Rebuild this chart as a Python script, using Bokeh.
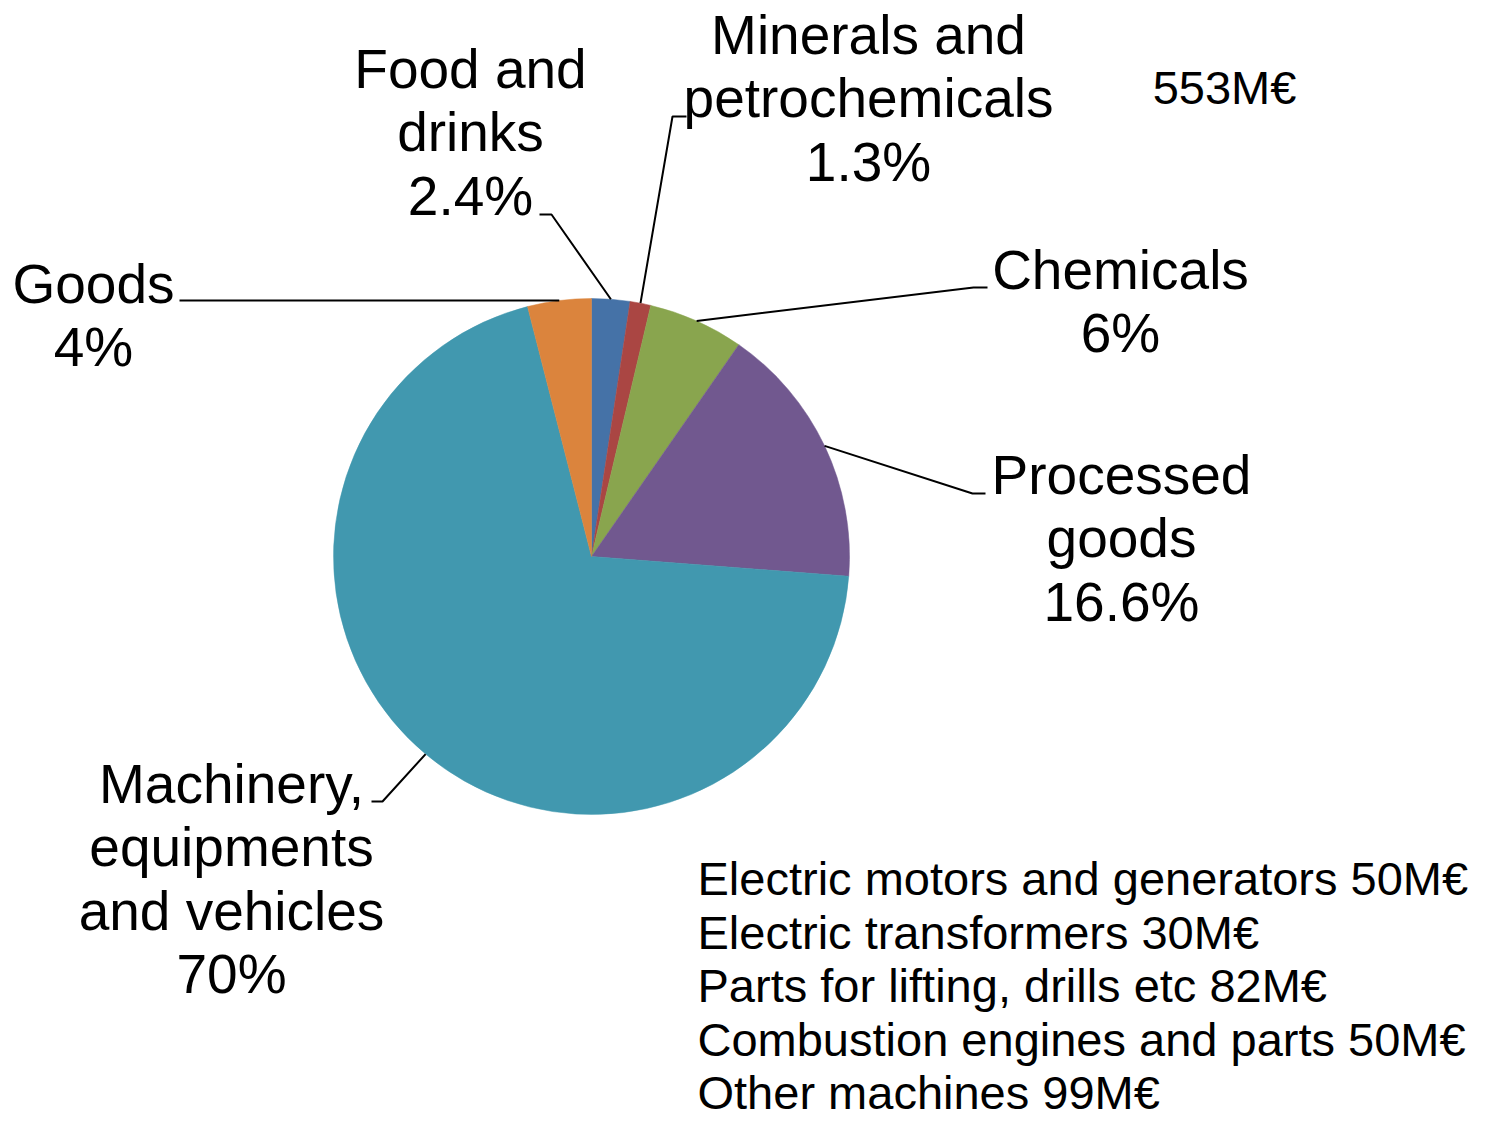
import numpy as np
from bokeh.plotting import figure
from bokeh.models import Range1d
from bokeh.core.properties import value
from bokeh.embed import file_html
from bokeh.resources import INLINE

# ---------------- data ----------------
categories = ["Food and drinks", "Minerals and petrochemicals", "Chemicals",
              "Processed goods", "Machinery, equipments and vehicles", "Goods"]
shares = [2.4, 1.3, 6.0, 16.6, 70.0, 4.0]
share_labels = ["2.4%", "1.3%", "6%", "16.6%", "70%", "4%"]
label_lines = [["Food and", "drinks"],
               ["Minerals and", "petrochemicals"],
               ["Chemicals"],
               ["Processed", "goods"],
               ["Machinery,", "equipments", "and vehicles"],
               ["Goods"]]
colors = ["#4572A7", "#AA4643", "#89A54E", "#71588F", "#4198AF", "#DB843D"]
total_label = "553M€"
breakdown_items = ["Electric motors and generators", "Electric transformers",
                   "Parts for lifting, drills etc", "Combustion engines and parts",
                   "Other machines"]
breakdown_values = [50, 30, 82, 50, 99]

# ---------------- layout (image pixel coords) ----------------
W, H = 1479, 1122
def X(px):
    return px
def Y(py):
    return H - py

CX, CY, R = X(591), Y(556), 258
FONT = value("Liberation Sans")

# label anchor: (center x, first line y), line step
label_pos = [(470, 68), (868, 34), (1120, 269), (1121, 474), (231, 783), (93, 283)]
LINE_STEP = 63.5
# leader line elbows / ends (image px)
leader_elbow = [(551, 214), (672, 116), (973, 287), (972, 493), (382, 801), None]
leader_end = [(539, 214), (686, 116), (987, 287), (985, 493), (371, 801), (179, None)]

p = figure(width=W, height=H, x_range=Range1d(0, W), y_range=Range1d(0, H),
           output_backend="svg", toolbar_location=None, min_border=0)
p.axis.visible = False
p.grid.visible = False
p.outline_line_color = None
p.background_fill_color = "white"
p.border_fill_color = "white"

total = float(sum(shares))
cum = np.concatenate([[0.0], np.cumsum(shares)]) / total
starts = np.pi / 2 - 2 * np.pi * cum[:-1]
ends = np.pi / 2 - 2 * np.pi * cum[1:]
mids = (starts + ends) / 2

p.wedge(x=CX, y=CY, radius=R, start_angle=starts, end_angle=ends,
        direction="clock", fill_color=colors, line_color=colors, line_width=0.5)

# leader lines
for i in range(len(shares)):
    sx = CX + R * np.cos(mids[i])
    sy = CY + R * np.sin(mids[i])
    xs = [sx]
    ys = [sy]
    if leader_elbow[i] is not None:
        xs.append(X(leader_elbow[i][0]))
        ys.append(Y(leader_elbow[i][1]))
    ex, ey = leader_end[i]
    xs.append(X(ex))
    ys.append(sy if ey is None else Y(ey))
    p.line(xs, ys, line_color="black", line_width=2)

# labels
for i in range(len(shares)):
    lines = label_lines[i] + [share_labels[i]]
    cxp, by = label_pos[i]
    xs = [X(cxp)] * len(lines)
    ys = [Y(by + k * LINE_STEP) for k in range(len(lines))]
    p.text(x=xs, y=ys, text=lines, text_font=FONT, text_font_size="55px",
           text_align="center", text_baseline="alphabetic", text_color="black")

# total
p.text(x=[X(1224)], y=[Y(87)], text=[total_label], text_font=FONT,
       text_font_size="47px", text_align="center", text_baseline="alphabetic",
       text_color="black")

# breakdown list
btexts = [f"{n} {v}M€" for n, v in zip(breakdown_items, breakdown_values)]
bys = [Y(878 + k * 53.5) for k in range(len(btexts))]
p.text(x=[X(697)] * len(btexts), y=bys, text=btexts, text_font=FONT,
       text_font_size="47px", text_align="left", text_baseline="alphabetic",
       text_color="black")

open("out.html", "w").write(file_html(p, INLINE))
